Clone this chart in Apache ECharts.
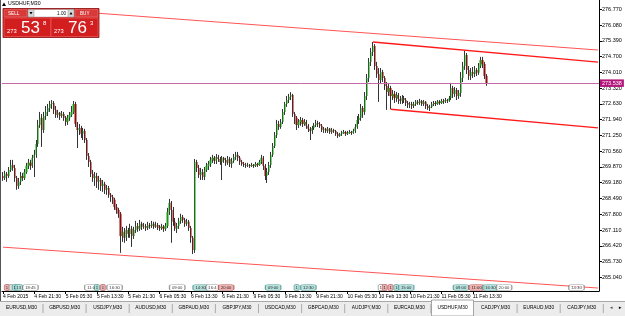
<!DOCTYPE html>
<html><head><meta charset="utf-8">
<script src="https://cdn.jsdelivr.net/npm/echarts@6/dist/echarts.min.js"></script>
<style>html,body{margin:0;padding:0;background:#fff;overflow:hidden}#c{width:625px;height:316px}</style>
</head><body><div id="c"></div>
<script>
// ---------- data ----------
const symbolName = 'USDHUF,M30';
const tickLabels = ['4 Feb 2015','4 Feb 21:30','5 Feb 05:30','5 Feb 13:30','5 Feb 21:30','6 Feb 05:30','6 Feb 13:30','6 Feb 21:30','9 Feb 05:30','9 Feb 13:30','9 Feb 21:30','10 Feb 05:30','10 Feb 13:30','10 Feb 21:30','11 Feb 05:30','11 Feb 13:30'];
const priceTicks = [265.04,265.73,266.42,267.11,267.80,268.49,269.18,269.87,270.56,271.25,271.94,272.63,273.32,274.01,274.70,275.39,276.08,276.77];
const opens = [269.48,269.39,269.57,269.48,269.74,269.96,269.83,269.39,269.04,269.22,
269.48,269.39,269.65,269.92,270.05,269.92,270.27,270.40,270.88,271.71,
272.02,271.49,272.10,272.28,272.45,272.63,272.67,272.37,272.15,272.24,
272.10,272.19,272.02,271.84,272.02,272.15,272.28,272.63,271.75,271.49,
271.58,271.32,271.45,271.05,270.35,270.09,269.57,269.39,269.48,269.22,
269.30,269.04,269.13,268.87,268.95,268.65,268.56,268.43,268.12,267.99,
267.82,266.85,267.03,266.77,267.11,266.94,267.16,266.85,267.11,267.29,
267.16,267.38,267.25,267.29,267.20,267.33,267.29,267.38,267.25,267.33,
267.25,267.20,267.25,267.16,267.29,267.90,268.30,267.99,267.47,267.16,
267.29,267.51,267.68,267.55,267.38,267.47,267.20,266.77,266.24,270.09,
269.83,269.52,269.65,269.43,269.74,269.92,270.00,270.18,270.27,270.13,
270.31,270.22,270.09,270.27,270.18,270.05,270.22,270.00,270.13,270.31,
270.40,270.27,270.09,270.00,269.96,269.92,269.96,269.92,269.96,269.92,
270.00,269.96,270.09,270.27,269.92,269.48,269.65,269.96,270.40,270.79,
271.27,271.75,271.62,271.84,272.28,272.63,272.80,272.94,273.02,272.19,
272.02,271.71,271.84,271.93,271.75,271.84,271.67,271.54,271.45,271.58,
271.71,271.80,271.75,271.67,271.49,271.54,271.45,271.54,271.40,271.49,
271.45,271.32,271.23,271.32,271.36,271.40,271.32,271.36,271.40,271.36,
271.45,271.62,271.93,272.02,272.45,272.28,272.98,273.77,274.47,274.90,
275.17,274.29,273.94,273.68,274.03,273.77,273.42,273.15,273.33,272.98,
273.07,272.89,273.02,272.85,272.76,272.89,272.80,272.67,272.59,272.63,
272.54,272.63,272.72,272.67,272.76,272.63,272.72,272.54,272.45,272.50,
272.63,272.67,272.63,272.72,272.67,272.76,272.72,272.80,272.76,272.89,
273.33,273.07,273.24,272.98,273.11,273.77,274.29,274.77,274.12,273.85,
274.03,273.94,274.12,273.99,274.29,274.55,274.38,273.85];
const closes = [269.39,269.57,269.48,269.74,269.96,269.83,269.39,269.04,269.22,269.48,
269.39,269.65,269.92,270.05,269.92,270.27,270.40,270.88,271.71,272.02,
271.49,272.10,272.28,272.45,272.63,272.67,272.37,272.15,272.24,272.10,
272.19,272.02,271.84,272.02,272.15,272.28,272.63,271.75,271.49,271.58,
271.32,271.45,271.05,270.35,270.09,269.57,269.39,269.48,269.22,269.30,
269.04,269.13,268.87,268.95,268.65,268.56,268.43,268.12,267.99,267.82,
266.85,267.03,266.77,267.11,266.94,267.16,266.85,267.11,267.29,267.16,
267.38,267.25,267.29,267.20,267.33,267.29,267.38,267.25,267.33,267.25,
267.20,267.25,267.16,267.29,267.90,268.30,267.99,267.47,267.16,267.29,
267.51,267.68,267.55,267.38,267.47,267.20,266.77,266.24,270.09,269.83,
269.52,269.65,269.43,269.74,269.92,270.00,270.18,270.27,270.13,270.31,
270.22,270.09,270.27,270.18,270.05,270.22,270.00,270.13,270.31,270.40,
270.27,270.09,270.00,269.96,269.92,269.96,269.92,269.96,269.92,270.00,
269.96,270.09,270.27,269.92,269.48,269.65,269.96,270.40,270.79,271.27,
271.75,271.62,271.84,272.28,272.63,272.80,272.94,273.02,272.19,272.02,
271.71,271.84,271.93,271.75,271.84,271.67,271.54,271.45,271.58,271.71,
271.80,271.75,271.67,271.49,271.54,271.45,271.54,271.40,271.49,271.45,
271.32,271.23,271.32,271.36,271.40,271.32,271.36,271.40,271.36,271.45,
271.62,271.93,272.02,272.45,272.28,272.98,273.77,274.47,274.90,275.17,
274.29,273.94,273.68,274.03,273.77,273.42,273.15,273.33,272.98,273.07,
272.89,273.02,272.85,272.76,272.89,272.80,272.67,272.59,272.63,272.54,
272.63,272.72,272.67,272.76,272.63,272.72,272.54,272.45,272.50,272.63,
272.67,272.63,272.72,272.67,272.76,272.72,272.80,272.76,272.89,273.33,
273.07,273.24,272.98,273.11,273.77,274.29,274.77,274.12,273.85,274.03,
273.94,274.12,273.99,274.29,274.55,274.38,273.85,273.55];
const highs = [269.65,269.70,269.65,269.87,270.18,270.18,269.96,269.48,269.39,269.65,
269.61,269.78,270.05,270.22,270.18,270.40,270.62,271.05,271.93,272.28,
272.19,272.28,272.54,272.63,272.76,272.80,272.76,272.54,272.37,272.28,
272.32,272.28,272.10,272.15,272.28,272.54,272.76,272.72,271.84,271.75,
271.67,271.58,271.54,271.14,270.48,270.18,269.74,269.65,269.61,269.48,
269.39,269.30,269.22,269.08,269.04,268.73,268.65,268.52,268.25,268.08,
267.90,267.25,267.20,267.29,267.20,267.38,267.29,267.25,267.51,267.42,
267.55,267.47,267.42,267.38,267.47,267.42,267.51,267.47,267.47,267.42,
267.33,267.38,267.33,267.42,268.08,268.47,268.38,268.12,267.64,267.42,
267.64,267.82,267.77,267.64,267.60,267.55,267.29,266.85,270.22,270.18,
269.96,269.83,269.78,269.87,270.05,270.13,270.31,270.40,270.35,270.44,
270.40,270.31,270.35,270.31,270.27,270.35,270.31,270.27,270.44,270.53,
270.53,270.35,270.18,270.09,270.05,270.05,270.00,270.05,270.00,270.09,
270.05,270.18,270.40,270.35,270.00,269.83,270.09,270.53,270.92,271.40,
271.93,271.89,271.97,272.41,272.72,272.98,273.07,273.15,273.07,272.28,
272.10,271.97,272.06,272.02,271.97,271.93,271.75,271.62,271.67,271.80,
271.93,271.89,271.84,271.75,271.62,271.58,271.62,271.58,271.58,271.54,
271.49,271.40,271.36,271.45,271.49,271.45,271.45,271.49,271.45,271.54,
271.75,272.10,272.19,272.63,272.54,273.15,273.94,274.64,275.08,275.34,
275.25,274.47,274.20,274.20,274.12,273.85,273.59,273.50,273.42,273.24,
273.20,273.15,273.11,272.98,273.02,272.98,272.89,272.76,272.72,272.72,
272.72,272.80,272.80,272.85,272.80,272.80,272.76,272.63,272.59,272.72,
272.76,272.76,272.80,272.80,272.85,272.85,272.89,272.85,272.98,273.55,
273.42,273.37,273.33,273.24,274.03,274.47,274.95,274.86,274.29,274.20,
274.25,274.29,274.20,274.42,274.69,274.69,274.47,273.94];
const lows = [269.26,269.30,269.22,269.39,269.65,269.70,269.22,268.87,268.91,269.08,
269.26,269.30,269.57,269.78,269.74,269.83,269.43,270.27,270.75,271.58,
270.75,271.36,271.93,272.10,272.28,272.41,272.19,272.02,272.02,271.93,
272.02,271.89,271.67,271.71,271.89,272.06,272.19,271.62,270.70,271.27,
271.14,271.05,270.92,270.18,269.87,269.43,269.22,269.04,268.95,268.87,
268.82,268.78,268.69,268.65,268.52,268.34,268.25,267.99,267.82,267.64,
266.11,266.59,266.55,266.63,266.77,266.77,266.37,266.72,266.98,267.03,
267.07,267.11,267.16,267.07,267.11,267.16,267.20,267.16,267.20,267.11,
267.07,267.11,267.03,267.07,267.20,267.77,266.55,267.29,267.07,266.98,
267.16,267.38,267.42,267.25,267.29,267.07,266.55,266.06,266.11,269.65,
269.39,269.30,269.30,269.30,269.65,269.74,269.87,270.05,270.00,270.00,
270.09,269.96,269.30,270.05,269.92,269.96,269.87,269.83,270.05,270.18,
270.13,269.96,269.92,269.87,269.83,269.87,269.83,269.87,269.83,269.87,
269.87,269.92,270.00,269.74,269.30,269.17,269.52,269.83,270.31,270.70,
271.14,271.49,271.54,271.75,272.15,272.50,272.67,272.80,272.06,271.75,
271.49,271.58,271.67,271.62,271.67,271.54,271.40,271.05,271.32,271.49,
271.62,271.62,271.58,271.40,271.36,271.36,271.36,271.32,271.32,271.36,
271.23,271.14,271.19,271.23,271.32,271.23,271.27,271.32,271.27,271.32,
271.36,271.54,271.75,271.89,272.02,272.15,272.80,273.59,274.29,274.73,
274.12,273.77,272.72,273.50,273.59,273.24,272.37,272.98,272.41,272.80,
272.67,272.72,272.63,272.63,272.63,272.67,272.54,272.45,272.45,272.41,
272.45,272.54,272.59,272.59,272.54,272.54,272.41,272.37,272.32,272.45,
272.54,272.54,272.59,272.59,272.63,272.63,272.67,272.67,272.72,272.80,
272.89,272.94,272.80,272.85,272.94,273.59,274.12,273.94,273.68,273.68,
273.77,273.81,273.85,273.90,274.20,274.20,273.72,273.42];
const bidPrice = 273.538;
// trend lines: [bar index, price]
const trendUpperLong = [[20, 276.78], [304, 274.99]];
const channelTop = [[189, 275.34], [304, 274.46]];
const channelBottom = [[198, 272.40], [304, 271.58]];
const trendLowerLong = [[0, 266.36], [304, 264.57]];
// calendar events on the time axis
const eventIdx  = [2, 4, 6, 8, 14, 45, 48, 51, 57, 89, 101, 107, 114, 138, 150, 156, 193, 195, 198, 201, 206, 234, 242, 249, 256, 293];
const eventText = ['1','','1','13','18:45','11:0','1','1','16:30','09:00','14:30','16:4','20:00','09:00','1','12:30','1','1','1','1','15:00','09:00','11:00','16:30','20:00','14:30'];
const eventKind = ['p','g','t','t','w','w','t','p','w','w','t','w','p','t','t','t','w','p','p','t','t','t','p','t','w','w'];
const tabs = ['EURUSD,M30','GBPUSD,M30','USDJPY,M30','AUDUSD,M30','GBPAUD,M30','GBPJPY,M30','USDCAD,M30','GBPCAD,M30','AUDJPY,M30','EURCAD,M30','USDHUF,M30','CADJPY,M30','EURAUD,M30','CADJPY,M30'];
const sellQuote = ['273', '53', '8'];
const buyQuote = ['273', '76', '3'];
const lotSize = '1.00';

// ---------- build ----------
const FONT = 'Liberation Sans, Arial, sans-serif';
const N = 305;
const cats = Array.from({length: N}, (_, i) => String(i));
const ohlc = opens.map((o, i) => [o, closes[i], lows[i], highs[i]]);
const isTick = i => i % 16 === 0 && (i / 16) < tickLabels.length;
const kindStyle = {
  w: {color: '#ffffff', borderColor: '#808080'},
  t: {color: '#a6d8d4', borderColor: '#4f9994'},
  p: {color: '#e9a0a0', borderColor: '#b05858'},
  g: {color: '#d8d8d8', borderColor: '#909090'}
};
const eventData = eventIdx.map((ix, k) => ({
  value: [ix, 0.012],
  symbolSize: [Math.max(4, eventText[k].length * 2.6 + 2.5), 6],
  itemStyle: Object.assign({borderWidth: 0.8}, kindStyle[eventKind[k]]),
  label: {formatter: eventText[k]}
}));

const graphics = [];
graphics.push({type: 'line', shape: {x1: 0.5, y1: 0, x2: 0.5, y2: 301}, style: {stroke: '#555', lineWidth: 1}, z: 50});
graphics.push({type: 'polygon', shape: {points: [[2, 6], [6, 6], [4, 2.5]]}, style: {fill: '#000'}, z: 100});
graphics.push({type: 'text', x: 8, y: 1.5, style: {text: symbolName, font: '5.2px ' + FONT, fill: '#000'}, z: 100});
graphics.push({type: 'rect', shape: {x: 3, y: 8.5, width: 96, height: 29}, style: {fill: '#c81818', stroke: '#8a0c0c', lineWidth: 0.8}, z: 100});
graphics.push({type: 'rect', shape: {x: 4, y: 9.5, width: 23, height: 7.5}, style: {fill: '#d83a3a', stroke: '#f08080', lineWidth: 0.5}, z: 101});
graphics.push({type: 'text', x: 8, y: 11, style: {text: 'SELL', font: '4.6px ' + FONT, fill: '#fff'}, z: 102});
graphics.push({type: 'rect', shape: {x: 75, y: 9.5, width: 23, height: 7.5}, style: {fill: '#d83a3a', stroke: '#f08080', lineWidth: 0.5}, z: 101});
graphics.push({type: 'text', x: 80, y: 11, style: {text: 'BUY', font: '4.6px ' + FONT, fill: '#fff'}, z: 102});
graphics.push({type: 'rect', shape: {x: 28, y: 9.5, width: 46, height: 7.5}, style: {fill: '#ffffff', stroke: '#999', lineWidth: 0.5}, z: 101});
graphics.push({type: 'rect', shape: {x: 28, y: 9.5, width: 6, height: 7.5}, style: {fill: '#d6d6d6', stroke: '#888', lineWidth: 0.5}, z: 102});
graphics.push({type: 'rect', shape: {x: 68, y: 9.5, width: 6, height: 7.5}, style: {fill: '#d6d6d6', stroke: '#888', lineWidth: 0.5}, z: 102});
graphics.push({type: 'polygon', shape: {points: [[29.5, 12], [32.5, 12], [31, 14.5]]}, style: {fill: '#000'}, z: 103});
graphics.push({type: 'polygon', shape: {points: [[69.5, 14.5], [72.5, 14.5], [71, 12]]}, style: {fill: '#000'}, z: 103});
graphics.push({type: 'text', x: 66, y: 11, style: {text: lotSize, font: '4.6px ' + FONT, fill: '#000', align: 'right'}, z: 103});
[[4, sellQuote], [51, buyQuote]].forEach(([x0, q]) => {
  graphics.push({type: 'rect', shape: {x: x0, y: 18, width: 47, height: 18.5}, style: {fill: '#d21e1e', stroke: '#f06a6a', lineWidth: 0.6}, z: 101});
  graphics.push({type: 'text', x: x0 + 3, y: 28.5, style: {text: q[0], font: '5.8px ' + FONT, fill: '#fff'}, z: 102});
  graphics.push({type: 'text', x: x0 + 17, y: 20, style: {text: q[1], font: '17px ' + FONT, fill: '#fff'}, z: 102});
  graphics.push({type: 'text', x: x0 + 39, y: 20, style: {text: q[2], font: '6px ' + FONT, fill: '#fff'}, z: 102});
});
graphics.push({type: 'rect', shape: {x: 0, y: 301, width: 625, height: 15}, style: {fill: '#ececec'}, z: 100});
graphics.push({type: 'line', shape: {x1: 0, y1: 301.5, x2: 625, y2: 301.5}, style: {stroke: '#a8a8a8', lineWidth: 1}, z: 101});
const tabW = 43.1;
tabs.forEach((t, k) => {
  const cx = 21.5 + k * tabW;
  const active = t === symbolName && k === 10;
  if (active) {
    graphics.push({type: 'rect', shape: {x: cx - 21, y: 300, width: 42, height: 16}, style: {fill: '#fff', stroke: '#909090', lineWidth: 0.8}, z: 102});
  } else {
    graphics.push({type: 'line', shape: {x1: cx + 21.5, y1: 304, x2: cx + 21.5, y2: 313}, style: {stroke: '#9a9a9a', lineWidth: 0.8}, z: 101});
  }
  graphics.push({type: 'text', x: cx, y: 305.5, style: {text: t, font: '4.8px ' + FONT, fill: '#000', align: 'center'}, z: 103});
});
graphics.push({type: 'text', x: 609, y: 305, style: {text: '◄', font: '4.5px ' + FONT, fill: '#555'}, z: 103});
graphics.push({type: 'text', x: 618, y: 305, style: {text: '►', font: '4.5px ' + FONT, fill: '#000'}, z: 103});

const lineSeries = (data, color, width, z) => ({
  type: 'line', data, symbol: 'none', silent: true, z,
  lineStyle: {color, width}, xAxisIndex: 0, yAxisIndex: 0
});

const option = {
  animation: false,
  backgroundColor: '#fff',
  textStyle: {fontFamily: FONT},
  grid: {left: 1, right: 26, top: 0, bottom: 25},
  xAxis: {
    type: 'category', data: cats, boundaryGap: true,
    axisLine: {show: true, lineStyle: {color: '#000', width: 1}},
    axisTick: {show: true, interval: (i) => isTick(i), alignWithLabel: true, length: 3, lineStyle: {color: '#000'}},
    axisLabel: {show: true, interval: (i) => isTick(i), formatter: (v, i) => isTick(i) ? tickLabels[i / 16] : '',
      align: 'left', fontSize: 5, color: '#000', margin: 3, fontFamily: FONT},
    splitLine: {show: false}
  },
  yAxis: [{
    type: 'value', position: 'right', min: 264.44, max: 277.18, scale: true,
    axisLine: {show: true, lineStyle: {color: '#000', width: 1}},
    axisTick: {show: true, customValues: priceTicks, length: 3, lineStyle: {color: '#000'}},
    axisLabel: {show: true, customValues: priceTicks, formatter: v => v.toFixed(3), fontSize: 5.5, color: '#000', margin: 3, fontFamily: FONT},
    splitLine: {show: false}
  }, {
    type: 'value', min: 0, max: 1, show: false
  }],
  graphic: graphics,
  series: [
    lineSeries(trendUpperLong, '#ff5555', 1, 2),
    lineSeries(trendLowerLong, '#ff5555', 1, 2),
    lineSeries(channelTop, '#ff1a1a', 1.4, 2),
    lineSeries(channelBottom, '#ff1a1a', 1.4, 2),
    {
      type: 'candlestick', data: ohlc, barWidth: 0.1, z: 3, silent: true,
      itemStyle: {color: '#000', color0: '#000', borderColor: '#000', borderColor0: '#000', borderWidth: 0.8}
    },
    {
      type: 'candlestick', data: ohlc, barWidth: 1.7, z: 4, silent: true,
      itemStyle: {color: '#109a10', color0: '#8a0c0c', borderColor: 'rgba(0,0,0,0)', borderColor0: 'rgba(0,0,0,0)', borderWidth: 0},
      markLine: {
        silent: true, symbol: ['none', 'none'], animation: false,
        lineStyle: {color: '#c46aa6', width: 1, type: 'solid'},
        label: {show: true, position: 'end', distance: 1, formatter: bidPrice.toFixed(3), color: '#fff',
          backgroundColor: '#b3157a', padding: [1, 2, 0.5, 2], fontSize: 5.5, fontFamily: FONT},
        data: [{yAxis: bidPrice}]
      }
    },
    {
      type: 'scatter', xAxisIndex: 0, yAxisIndex: 1, symbol: 'roundRect', data: eventData, z: 5, silent: true,
      label: {show: true, position: 'inside', fontSize: 4.2, color: '#000', fontFamily: FONT}
    }
  ]
};
const chart = echarts.init(document.getElementById('c'));
chart.setOption(option);
</script>
</body></html>
